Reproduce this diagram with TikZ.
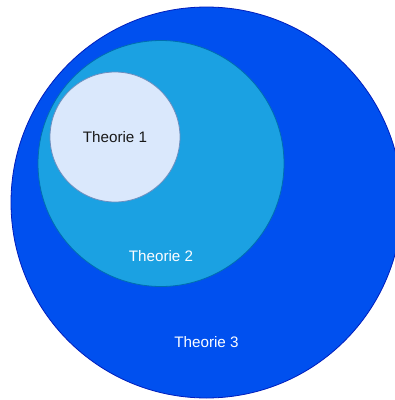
\documentclass[tikz,border=0pt]{standalone}
\usepackage{fontspec}
\setmainfont{Liberation Sans}
\definecolor{outerblue}{HTML}{0050EF}
\definecolor{outerline}{HTML}{001DBC}
\definecolor{midblue}{HTML}{1BA1E2}
\definecolor{midline}{HTML}{006EAF}
\definecolor{paleblue}{HTML}{DAE8FC}
\definecolor{paleline}{HTML}{6C8EBF}
\usetikzlibrary{positioning}

\begin{document}
\begin{tikzpicture}[x=1pt,y=-1pt,
      set/.style={circle,inner sep=0pt,outer sep=0pt,line width=0.8pt},
      lbl/.style={font=\fontsize{15.2}{18}\selectfont,inner sep=0pt}]
      \clip (0,0) rectangle (395,400);
      \node[set,draw=outerline,fill=outerblue,minimum size=391pt] (t3) at (206.5,202.5) {};
      \node[set,draw=midline,fill=midblue,minimum size=246pt] (t2) at (161,163.5) {};
      \node[set,draw=paleline,fill=paleblue,minimum size=130pt] (t1) at (115,137) {};
      \node[lbl,text=black!90] (n1) at (t1.center) {Theorie 1};
      \node[lbl,text=white!92!paleblue,above=25pt of t2.south] (n2) {Theorie 2};
      \node[lbl,text=white!92!paleblue,above=50.5pt of t3.south] (n3) {Theorie 3};
    \end{tikzpicture}
\end{document}
